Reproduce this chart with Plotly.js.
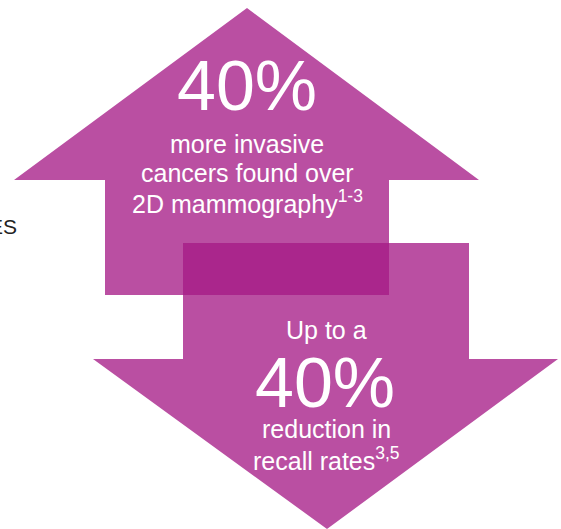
<!DOCTYPE html>
<html>
<head>
<meta charset="utf-8">
<script src="https://cdn.plot.ly/plotly-3.0.1.min.js"></script>
<style>html,body{margin:0;padding:0;background:#fff;overflow:hidden}#chart{width:561px;height:529px}</style>
</head>
<body>
<div id="chart"></div>
<script>
// Arrow outlines (in page-pixel units of the chart canvas)
var upArrowX = [247, 479, 389, 389, 105, 105, 14, 247];
var upArrowY = [8, 180, 180, 295, 295, 180, 180, 8];
var downArrowX = [183, 469, 469, 558, 327, 93, 183, 183];
var downArrowY = [243, 243, 359, 359, 529, 359, 359, 243];

// Texts
var upBig = "40%";
var upLines = ["more invasive", "cancers found over", "2D mammography<sup>1-3</sup>"];
var downTop = "Up to a";
var downBig = "40%";
var downLines = ["reduction in", "recall rates<sup>3,5</sup>"];
var sideText = "ES";

var fill = "rgba(165,26,134,0.77)";
var font = "Liberation Sans, Arial, Helvetica, sans-serif";

var traces = [
  {x: upArrowX, y: upArrowY, mode: "lines", fill: "toself", fillcolor: fill, line: {width: 0}, hoverinfo: "skip", showlegend: false},
  {x: downArrowX, y: downArrowY, mode: "lines", fill: "toself", fillcolor: fill, line: {width: 0}, hoverinfo: "skip", showlegend: false}
];

function ann(text, x, y, size, color, xanchor) {
  return {text: text, x: x, y: y, xref: "x", yref: "y", showarrow: false,
    xanchor: xanchor || "center", yanchor: "middle",
    font: {family: font, size: size, color: color || "#ffffff"}};
}

var annotations = [
  ann(upBig, 247, 86, 70),
  ann(upLines[0], 247, 144, 25),
  ann(upLines[1], 247, 173, 25),
  ann(upLines[2], 247, 202, 25),
  ann(downTop, 326, 330, 25),
  ann(downBig, 325, 383, 70),
  ann(downLines[0], 326, 429, 25),
  ann(downLines[1], 326, 459, 25),
  ann(sideText, 19, 226, 21, "#222222", "right")
];

var layout = {
  width: 561, height: 529,
  margin: {l: 0, r: 0, t: 0, b: 0},
  paper_bgcolor: "#ffffff", plot_bgcolor: "#ffffff",
  xaxis: {range: [0, 561], visible: false, fixedrange: true},
  yaxis: {range: [529, 0], visible: false, fixedrange: true},
  annotations: annotations,
  showlegend: false
};

Plotly.newPlot("chart", traces, layout, {displayModeBar: false, staticPlot: true});
</script>
</body>
</html>
